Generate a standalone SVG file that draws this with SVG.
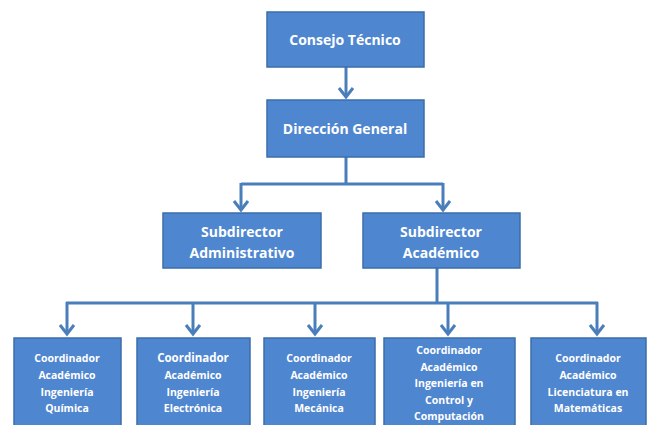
<svg xmlns="http://www.w3.org/2000/svg" width="649" height="425" viewBox="0 0 649 425">
<defs>
<style>
.box{fill:#4F86D0;stroke:#3B6DAA;stroke-width:1.5}
.t{fill:#fff;font-family:"Open Sans","Liberation Sans",sans-serif;font-weight:bold;text-anchor:middle}
.big{font-size:14px}
.sm{font-size:10.5px}
.c{fill:none;stroke:#4A7EBB;stroke-width:3}
</style>
</defs>
<rect width="649" height="425" fill="#fff"/>
<g id="connectors">
<path class="c" d="M346,67 V97"/>
<path class="c" d="M339,88 L346,97 L353,88"/>
<path class="c" d="M346,157 V184 M241,184 H443"/>
<path class="c" d="M241,183 V210 M443,183 V210"/>
<path class="c" d="M234,201 L241,210 L248,201 M436,201 L443,210 L450,201"/>
<path class="c" d="M437,268 V303 M66,303 H598"/>
<path class="c" d="M67,302 V334 M193,302 V334 M315,302 V334 M448,302 V334 M597,302 V334"/>
<path class="c" d="M60,325 L67,334 L74,325 M186,325 L193,334 L200,325 M308,325 L315,334 L322,325 M441,325 L448,334 L455,325 M590,325 L597,334 L604,325"/>
</g>
<g id="consejo">
<rect class="box" x="267" y="12" width="157" height="55"/>
<text class="t big" x="345" y="45">Consejo Técnico</text>
</g>
<g id="direccion">
<rect class="box" x="267" y="100" width="157" height="57"/>
<text class="t big" x="345" y="134">Dirección General</text>
</g>
<g id="subadmin">
<rect class="box" x="163" y="213" width="158" height="55"/>
<text class="t big" x="242" y="237">Subdirector</text>
<text class="t big" x="242" y="258">Administrativo</text>
</g>
<g id="subacad">
<rect class="box" x="363" y="213" width="157" height="55"/>
<text class="t big" x="441" y="237">Subdirector</text>
<text class="t big" x="441" y="258">Académico</text>
</g>
<g id="coordQuimica">
<rect class="box" x="14" y="338" width="107" height="95"/>
<text class="t sm" x="67" y="362">Coordinador</text>
<text class="t sm" x="67" y="379">Académico</text>
<text class="t sm" x="67" y="396">Ingeniería</text>
<text class="t sm" x="67" y="412">Química</text>
</g>
<g id="coordElectronica">
<rect class="box" x="137" y="338" width="113" height="95"/>
<text class="t sm" x="193" y="362" style="font-size:11.5px">Coordinador</text>
<text class="t sm" x="193" y="379">Académico</text>
<text class="t sm" x="193" y="396">Ingeniería</text>
<text class="t sm" x="193" y="412">Electrónica</text>
</g>
<g id="coordMecanica">
<rect class="box" x="264" y="338" width="111" height="95"/>
<text class="t sm" x="319" y="362">Coordinador</text>
<text class="t sm" x="319" y="379">Académico</text>
<text class="t sm" x="319" y="396">Ingeniería</text>
<text class="t sm" x="319" y="412">Mecánica</text>
</g>
<g id="coordControl">
<rect class="box" x="384" y="338" width="131" height="95"/>
<text class="t sm" x="449" y="354">Coordinador</text>
<text class="t sm" x="449" y="371">Académico</text>
<text class="t sm" x="449" y="387">Ingeniería en</text>
<text class="t sm" x="449" y="404">Control y</text>
<text class="t sm" x="449" y="420">Computación</text>
</g>
<g id="coordMatematicas">
<rect class="box" x="531" y="338" width="115" height="95"/>
<text class="t sm" x="588" y="362">Coordinador</text>
<text class="t sm" x="588" y="379">Académico</text>
<text class="t sm" x="588" y="396">Licenciatura en</text>
<text class="t sm" x="588" y="412">Matemáticas</text>
</g>
</svg>
